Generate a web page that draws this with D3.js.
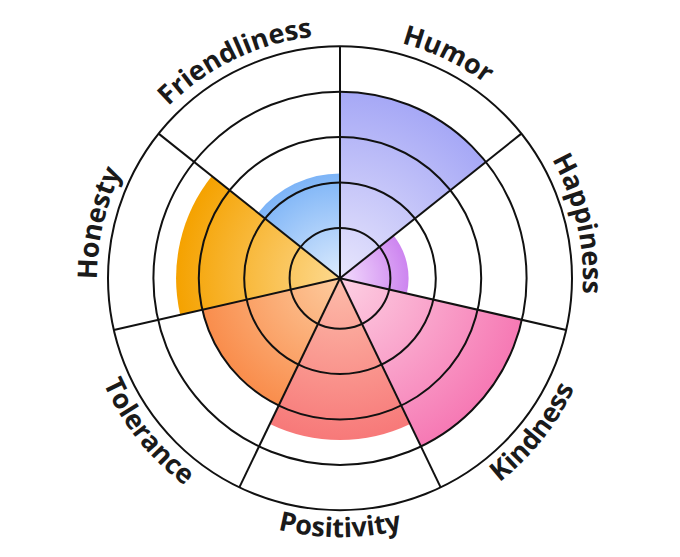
<!DOCTYPE html>
<html>
<head>
<meta charset="utf-8">
<script src="https://cdn.jsdelivr.net/npm/d3@7"></script>
<style>
  html, body { margin: 0; padding: 0; background: #ffffff; }
  svg { display: block; }
</style>
</head>
<body>
<svg id="chart" width="680" height="557"></svg>
<script>
// ---- data ----
const categories = ["Humor", "Happiness", "Kindness", "Positivity", "Tolerance", "Honesty", "Friendliness"];
const values = [4, 1.4, 4, 3.45, 3, 3.5, 2.2];
const ringTicks = [1, 2, 3, 4, 5];
const innerColors = ["#e8e6fc", "#f3dcfc", "#fdd0e3", "#fdbcaa", "#fdcb9e", "#fdd98f", "#dcebfd"];
const outerColors = ["#a6a8f6", "#cd85f0", "#f679b4", "#f77979", "#f98d4c", "#f5a200", "#7db4f7"];

// ---- layout ----
const width = 680, height = 557;
const cx = 340, cy = 278.3;
const svg = d3.select("#chart");
const g = svg.append("g").attr("transform", `translate(${cx},${cy})`);

const r = d3.scaleLinear().domain([0, 5]).range([5, 232]);
const angle = d3.scaleBand().domain(categories).range([0, 2 * Math.PI]).paddingInner(0).paddingOuter(0);

// gradients
const defs = svg.append("defs");
categories.forEach((c, i) => {
  const grad = defs.append("radialGradient")
    .attr("id", "grad" + i)
    .attr("gradientUnits", "userSpaceOnUse")
    .attr("cx", 0).attr("cy", 0).attr("r", r(values[i]));
  grad.append("stop").attr("offset", "0%").attr("stop-color", innerColors[i]);
  grad.append("stop").attr("offset", "100%").attr("stop-color", outerColors[i]);
});

// wedges
const arc = d3.arc()
  .innerRadius(0)
  .outerRadius((d, i) => r(values[i]))
  .startAngle(d => angle(d))
  .endAngle(d => angle(d) + angle.bandwidth());

g.selectAll("path.wedge")
  .data(categories)
  .join("path")
  .attr("class", "wedge")
  .attr("d", (d, i) => arc(d, i))
  .attr("fill", (d, i) => `url(#grad${i})`);

// rings
g.selectAll("circle.ring")
  .data(ringTicks)
  .join("circle")
  .attr("class", "ring")
  .attr("r", d => r(d))
  .attr("fill", "none")
  .attr("stroke", "#111")
  .attr("stroke-width", 2);

// spokes
g.selectAll("line.spoke")
  .data(categories)
  .join("line")
  .attr("class", "spoke")
  .attr("x1", 0).attr("y1", 0)
  .attr("x2", d => r(5) * Math.sin(angle(d)))
  .attr("y2", d => -r(5) * Math.cos(angle(d)))
  .attr("stroke", "#111")
  .attr("stroke-width", 2);

// curved labels
const labelUpR = 243;
const labelDownR = 259;
function pt(rad, a) { return [rad * Math.sin(a), -rad * Math.cos(a)]; }

categories.forEach((c, i) => {
  const mid = angle(c) + angle.bandwidth() / 2;
  const deg = mid * 180 / Math.PI;
  const flip = deg > 90 && deg < 270;
  let d;
  if (!flip) {
    const rad = labelUpR;
    const p0 = pt(rad, mid - Math.PI / 2), p1 = pt(rad, mid + Math.PI / 2);
    d = `M${p0[0]},${p0[1]} A${rad},${rad} 0 0 1 ${p1[0]},${p1[1]}`;
  } else {
    const rad = labelDownR;
    const p0 = pt(rad, mid + Math.PI / 2), p1 = pt(rad, mid - Math.PI / 2);
    d = `M${p0[0]},${p0[1]} A${rad},${rad} 0 0 0 ${p1[0]},${p1[1]}`;
  }
  defs.append("path").attr("id", "lp" + i).attr("d", d);
  g.append("text")
    .attr("font-family", "'Open Sans', 'Noto Sans', sans-serif")
    .attr("font-weight", 700)
    .attr("font-size", 27)
    .attr("fill", "#1a1a1a")
    .append("textPath")
    .attr("href", "#lp" + i)
    .attr("startOffset", "50%")
    .attr("text-anchor", "middle")
    .text(c);
});
</script>
</body>
</html>
